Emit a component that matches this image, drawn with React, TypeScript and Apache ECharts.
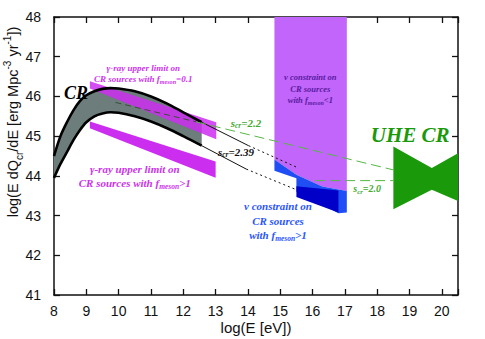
import React, { useEffect, useRef } from 'react';
import * as echarts from 'echarts';

// ---- data (log E [eV], log E dQ/dE) ----
const crUpperCurve: number[][] = [
  [8.0, 44.5], [8.2, 45.0], [8.4, 45.35], [8.6, 45.65], [8.8, 45.88], [9.0, 46.03],
  [9.25, 46.13], [9.5, 46.19], [9.75, 46.21], [10.0, 46.2], [10.5, 46.13], [11.0, 46.0],
  [11.5, 45.82], [12.0, 45.6], [12.57, 45.35],
];
const crLowerCurve: number[][] = [
  [8.0, 43.95], [8.2, 44.3], [8.4, 44.6], [8.6, 44.9], [8.8, 45.15], [9.0, 45.35],
  [9.25, 45.5], [9.5, 45.57], [9.75, 45.6], [10.0, 45.59], [10.5, 45.5], [11.0, 45.37],
  [11.5, 45.2], [12.0, 45.0], [12.57, 44.76],
];
const upperSolidExt: number[][] = [[12.57, 45.35], [14.02, 44.76]];
const upperDottedExt: number[][] = [[14.02, 44.76], [15.5, 44.22]];
const lowerSolidExt: number[][] = [[12.57, 44.76], [13.95, 44.17]];
const lowerDottedExt: number[][] = [[13.95, 44.17], [15.5, 43.65]];
const s22Hidden: number[][] = [[9.9, 45.85], [12.4, 45.36]];
const s22Line: number[][] = [[12.4, 45.36], [18.5, 44.15]];
const s20Line: number[][] = [[16.08, 43.88], [18.5, 43.88]];
const gammaLimitF01: number[][] = [[9.11, 46.38], [13.02, 45.35], [13.02, 44.92], [9.11, 46.2]];
const gammaLimitF1: number[][] = [[9.11, 45.37], [13.0, 44.36], [13.0, 43.95], [9.11, 45.2]];
const nuPurple: number[][] = [
  [14.82, 48], [17.06, 48], [17.06, 43.62], [16.3, 43.73], [15.5, 44.03], [14.82, 44.41],
];
const nuLightBlue: number[][] = [
  [14.82, 44.41], [15.5, 44.03], [16.3, 43.73], [17.06, 43.62], [17.06, 43.08],
  [16.8, 43.06], [15.5, 43.6], [15.5, 43.94], [14.82, 44.13],
];
const nuDarkBlue: number[][] = [[15.5, 43.74], [16.8, 43.63], [16.8, 43.08], [15.5, 43.47]];
const uheBowtie: number[][] = [
  [18.5, 44.74], [19.69, 44.2], [20.7, 44.66], [20.7, 43.3], [19.69, 43.65], [18.5, 43.16],
];

const annotationTexts: string[] = [
  'γ-ray upper limit on\nCR sources with {f|f}{m|meson}=0.1',
  'γ-ray upper limit on\nCR sources with {f|f}{m|meson}>1',
  'ν constraint on\nCR sources\nwith {f|f}{m|meson}<1',
  'ν constraint on\nCR sources\nwith {f|f}{m|meson}>1',
  '{f|s}{m|cr}=2.2',
  '{f|s}{m|cr}=2.39',
  '{f|s}{m|cr}=2.0',
  'UHE CR',
  'CR',
];
const annotationAnchors: number[][] = [
  [10.76, 46.57], [10.5, 44.0], [15.93, 46.19], [14.93, 42.87],
  [13.94, 45.34], [13.63, 44.61], [17.69, 43.68], [19.02, 45.02], [8.68, 46.09],
];

const xRange = [8, 20.5];
const yRange = [41, 48];

// styles per annotation (colour, font size, line height)
const annStyle = [
  { c: '#cc33ee', s: 9, lh: 11 },
  { c: '#cc33ee', s: 11, lh: 14 },
  { c: '#5a1aa0', s: 8.5, lh: 11.5 },
  { c: '#2a55ff', s: 11, lh: 14.5 },
  { c: '#44aa33', s: 11, lh: 13 },
  { c: '#111111', s: 11, lh: 13 },
  { c: '#44aa33', s: 10, lh: 12 },
  { c: '#1a9a0a', s: 21, lh: 24 },
  { c: '#000000', s: 18, lh: 20 },
];

const SERIF = 'Liberation Serif';
const SANS = 'Liberation Sans';

function polygonSeries(points: number[][], fill: string, opacity = 1) {
  return {
    type: 'custom',
    clip: true,
    data: [[0]],
    renderItem: (_p: any, api: any) => ({
      type: 'polygon',
      shape: { points: points.map((pt) => api.coord(pt)) },
      style: { fill, opacity, stroke: 'none', lineWidth: 0 },
    }),
  };
}

function lineSeries(data: number[][], color: string, width: number, type: any = 'solid', smooth: any = false) {
  return {
    type: 'line',
    data,
    showSymbol: false,
    symbol: 'none',
    smooth,
    clip: true,
    lineStyle: { color, width, type },
  };
}

export default function App() {
  const ref = useRef<HTMLDivElement>(null);
  useEffect(() => {
    if (!ref.current) return;
    const chart = echarts.init(ref.current, undefined, { renderer: 'svg' });
    const bandPoints = [...crUpperCurve, ...crLowerCurve.slice().reverse()];
    const axisCommon = {
      type: 'value',
      axisLine: { show: true, lineStyle: { color: '#111', width: 1.5 } },
      axisTick: { show: true, inside: true, length: 6, lineStyle: { color: '#111', width: 1.3 } },
      splitLine: { show: false },
    };
    const option: any = {
      animation: false,
      backgroundColor: '#ffffff',
      textStyle: { fontFamily: SANS },
      grid: { left: 54, right: 27, top: 17, bottom: 44 },
      xAxis: [
        {
          ...axisCommon, position: 'bottom', min: xRange[0], max: xRange[1], interval: 1,
          axisLabel: {
            margin: 9, color: '#111', fontSize: 14, fontFamily: SANS,
            formatter: (v: number) => (Number.isInteger(v) ? String(v) : ''),
          },
        },
        {
          ...axisCommon, position: 'top', min: xRange[0], max: xRange[1], interval: 1,
          axisLabel: { show: false },
        },
      ],
      yAxis: [
        {
          ...axisCommon, position: 'left', min: yRange[0], max: yRange[1], interval: 1,
          axisLabel: { margin: 13, color: '#111', fontSize: 14, fontFamily: SANS },
        },
        {
          ...axisCommon, position: 'right', min: yRange[0], max: yRange[1], interval: 1,
          axisLabel: { show: false },
        },
      ],
      graphic: [
        {
          type: 'text', x: 13, y: 122, rotation: Math.PI / 2,
          style: {
            text: 'log(E dQ{sub|cr}/dE [erg Mpc{sup|-3} yr{sup|-1}])',
            fill: '#111', fontSize: 14.5, fontFamily: SANS, align: 'center', verticalAlign: 'middle',
            lineHeight: 22,
            rich: {
              sub: { fontSize: 10, fontFamily: SANS, fill: '#111', verticalAlign: 'bottom', lineHeight: 12 },
              sup: { fontSize: 10, fontFamily: SANS, fill: '#111', verticalAlign: 'top', lineHeight: 12 },
            },
          },
        },
        {
          type: 'text', x: 256, y: 327,
          style: { text: 'log(E [eV])', fill: '#111', fontSize: 15, fontFamily: SANS, align: 'center', verticalAlign: 'middle' },
        },
      ],
      series: [
        polygonSeries(bandPoints, '#6c7d7c'),
        lineSeries(s22Hidden, '#3b4d3b', 1, [6, 4]),
        lineSeries(crUpperCurve, '#000', 2.6, 'solid', 0.3),
        lineSeries(crLowerCurve, '#000', 2.6, 'solid', 0.3),
        polygonSeries(gammaLimitF01, '#cc2ef0', 0.85),
        polygonSeries(gammaLimitF1, '#cc2ef0', 1),
        polygonSeries(nuPurple, '#c165fb'),
        polygonSeries(nuLightBlue, '#1f4ef5'),
        polygonSeries(nuDarkBlue, '#0000c8'),
        lineSeries(upperSolidExt, '#111', 1),
        lineSeries(lowerSolidExt, '#111', 1),
        lineSeries(upperDottedExt, '#111', 1, [2, 3]),
        lineSeries(lowerDottedExt, '#111', 1, [2, 3]),
        lineSeries(s22Line, '#55b844', 1, [10, 5]),
        lineSeries(s20Line, '#55b844', 1, [10, 5]),
        polygonSeries(uheBowtie, '#1a9a0a'),
        {
          type: 'custom',
          clip: false,
          data: annotationAnchors.map((a, i) => [a[0], a[1], i]),
          encode: { x: 0, y: 1 },
          renderItem: (_p: any, api: any) => {
            const i = api.value(2);
            const st = annStyle[i];
            const pt = api.coord([api.value(0), api.value(1)]);
            return {
              type: 'text',
              x: pt[0],
              y: pt[1],
              style: {
                text: annotationTexts[i],
                fill: st.c,
                fontSize: st.s,
                fontFamily: SERIF,
                fontWeight: 'bold',
                fontStyle: 'italic',
                align: 'center',
                verticalAlign: 'middle',
                lineHeight: st.lh,
                rich: {
                  f: { fontSize: st.s, fontFamily: SERIF, fontWeight: 'bold', fontStyle: 'italic', fill: st.c, lineHeight: st.lh },
                  m: { fontSize: Math.max(6, st.s * 0.68), fontFamily: SERIF, fontWeight: 'bold', fontStyle: 'italic', fill: st.c, verticalAlign: 'bottom', lineHeight: st.s * 0.85 },
                },
              },
            };
          },
        },
      ],
    };
    chart.setOption(option);
    return () => chart.dispose();
  }, []);
  return (
    <div
      ref={ref}
      style={{ position: 'absolute', left: 0, top: 0, width: 485, height: 339, background: '#fff' }}
    />
  );
}
